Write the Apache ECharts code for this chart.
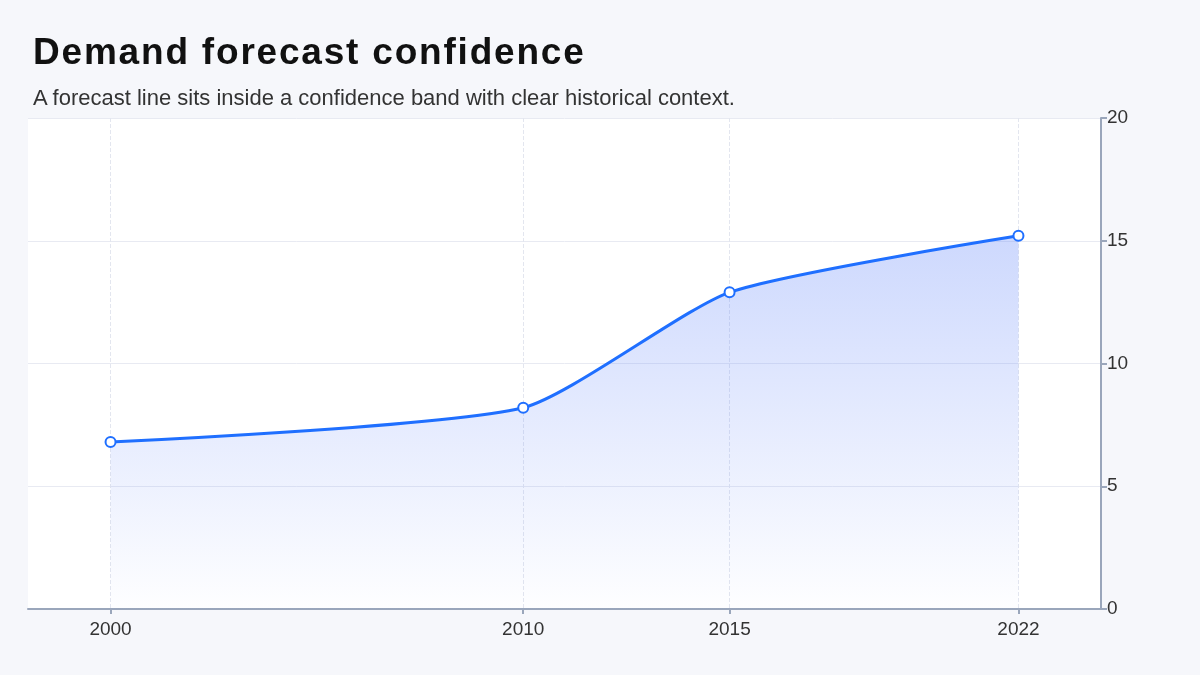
<!DOCTYPE html>
<html>
<head>
<meta charset="utf-8">
<script src="https://cdn.jsdelivr.net/npm/echarts@6/dist/echarts.min.js"></script>
<style>
  html, body { margin: 0; padding: 0; background: #f6f7fb; }
  #chart-wrap { position: relative; width: 1200px; height: 675px; }
  #chart { position: absolute; left: 0; top: 0; width: 1200px; height: 675px; }
  .ttl { position: absolute; left: 33px; top: 31px; font-family: "Liberation Sans", Arial, sans-serif;
         font-size: 37px; font-weight: bold; letter-spacing: 1.8px; color: #111; z-index: 2; }
  .sub { position: absolute; left: 33px; top: 85px; font-family: "Liberation Sans", Arial, sans-serif;
         font-size: 22px; color: #333; z-index: 2; }
</style>
</head>
<body>
<div id="chart-wrap">
  <div class="ttl">Demand forecast confidence</div>
  <div class="sub">A forecast line sits inside a confidence band with clear historical context.</div>
  <div id="chart"></div>
</div>
<script>
var myChart = echarts.init(document.getElementById('chart'));

// data
var years = [2000, 2010, 2015, 2022];
var demand = [6.8, 8.2, 12.9, 15.2];
var yTicks = [0, 5, 10, 15, 20];

var seriesData = [];
for (var i = 0; i < years.length; i++) {
    seriesData.push([years[i], demand[i]]);
}

var option = {
    backgroundColor: '#f6f7fb',
    textStyle: { fontFamily: 'Liberation Sans, Arial, sans-serif' },
    grid: {
        left: 28,
        right: 99,
        top: 118,
        bottom: 66,
        show: true,
        backgroundColor: '#ffffff',
        borderWidth: 0
    },
    xAxis: {
        type: 'value',
        min: 1998,
        max: 2024,
        axisLine: { lineStyle: { color: '#9aa6bb', width: 2 } },
        axisTick: { show: true, customValues: years, length: 5, lineStyle: { color: '#9aa6bb', width: 2 } },
        axisLabel: {
            customValues: years,
            color: '#333',
            fontSize: 19,
            margin: 11,
            formatter: function (v) { return String(v); }
        },
        splitLine: { show: true, lineStyle: { color: '#e3e6ef', type: 'dashed', width: 1 } }
    },
    yAxis: {
        type: 'value',
        position: 'right',
        min: yTicks[0],
        max: yTicks[yTicks.length - 1],
        interval: 5,
        axisLine: { show: true, lineStyle: { color: '#9aa6bb', width: 2 } },
        axisTick: { show: true, length: 6, lineStyle: { color: '#9aa6bb', width: 2 } },
        axisLabel: { color: '#333', fontSize: 19, margin: 6 },
        splitLine: { show: true, lineStyle: { color: '#e8eaf2', width: 1 } }
    },
    series: [{
        name: 'Forecast',
        type: 'line',
        data: seriesData,
        smooth: 0.2,
        symbol: 'circle',
        symbolSize: 10,
        itemStyle: { color: '#ffffff', borderColor: '#1f6fff', borderWidth: 2 },
        lineStyle: { color: '#1f6fff', width: 3 },
        areaStyle: {
            color: new echarts.graphic.LinearGradient(0, 0, 0, 1, [
                { offset: 0, color: 'rgba(100, 135, 250, 0.46)' },
                { offset: 1, color: 'rgba(100, 135, 250, 0.01)' }
            ])
        }
    }]
};

myChart.setOption(option);
</script>
</body>
</html>
